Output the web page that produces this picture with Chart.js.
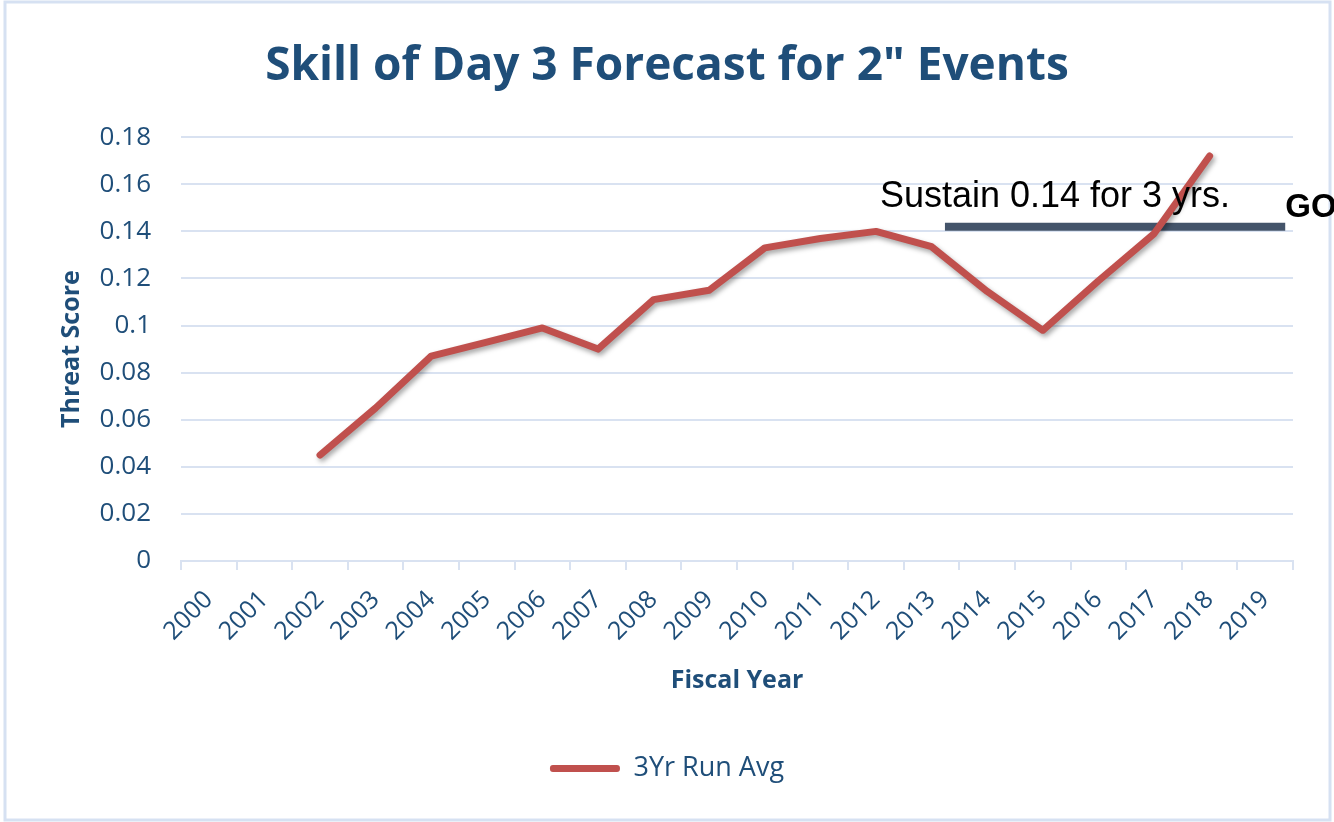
<!DOCTYPE html>
<html>
<head>
<meta charset="utf-8">
<script src="https://cdn.jsdelivr.net/npm/chart.js@4"></script>
<style>
  html, body { margin: 0; padding: 0; background: #fff; }
</style>
</head>
<body>
<canvas id="skill-chart" width="1334" height="822"></canvas>
<script>
// data
const years = ['2000', '2001', '2002', '2003', '2004', '2005', '2006', '2007', '2008', '2009',
               '2010', '2011', '2012', '2013', '2014', '2015', '2016', '2017', '2018', '2019'];
const runAvg = [null, null, 0.045, 0.065, 0.087, 0.093, 0.099, 0.090, 0.111, 0.115,
                0.133, 0.137, 0.140, 0.1335, 0.1145, 0.098, 0.119, 0.139, 0.172, null];
const goalValue = 0.142;
const goalSpan = [13.24, 19.36];   // in category units

const navy = '#1F4E79';
const gridColor = '#D9E2F1';
const lineRed = '#C0504D';

// light frame around the whole chart
const framePlugin = {
    id: 'frame',
    beforeDraw(chart) {
        const ctx = chart.ctx;
        ctx.save();
        ctx.fillStyle = '#fff';
        ctx.fillRect(0, 0, chart.width, chart.height);
        ctx.strokeStyle = '#D6E1F2';
        ctx.lineWidth = 3;
        ctx.strokeRect(5, 2, 1325, 818);
        ctx.restore();
    }
};

// soft shadow under the red line
const shadowPlugin = {
    id: 'lineShadow',
    beforeDatasetDraw(chart, args) {
        if (args.index !== 0) return;
        const ctx = chart.ctx;
        ctx.save();
        ctx.shadowColor = 'rgba(0,0,0,0.35)';
        ctx.shadowBlur = 5;
        ctx.shadowOffsetX = 2;
        ctx.shadowOffsetY = 3;
    },
    afterDatasetDraw(chart, args) {
        if (args.index !== 0) return;
        chart.ctx.restore();
    }
};

// goal text
const goalTextPlugin = {
    id: 'goalText',
    afterDatasetsDraw(chart) {
        const ctx = chart.ctx;
        const xs = chart.scales.xGoal;
        const ys = chart.scales.y;
        ctx.save();
        ctx.fillStyle = '#000';
        ctx.textBaseline = 'middle';
        ctx.textAlign = 'left';
        ctx.font = '36px "Liberation Sans", Arial, sans-serif';
        ctx.fillText('Sustain 0.14 for 3 yrs.', xs.getPixelForValue(12.07), ys.getPixelForValue(0.1545));
        ctx.font = 'bold 33px "Liberation Sans", Arial, sans-serif';
        ctx.fillText('GOAL', xs.getPixelForValue(goalSpan[1]), ys.getPixelForValue(0.150));
        ctx.restore();
    }
};

Chart.defaults.font.family = '"Open Sans", Lato, sans-serif';
Chart.defaults.color = navy;

new Chart(document.getElementById('skill-chart').getContext('2d'), {
    type: 'line',
    data: {
        labels: years,
        datasets: [{
            label: '3Yr Run Avg',
            data: runAvg,
            borderColor: lineRed,
            backgroundColor: lineRed,
            borderWidth: 7,
            pointRadius: 0,
            borderCapStyle: 'round',
            borderJoinStyle: 'round',
            tension: 0
        }, {
            label: 'goal',
            data: [{ x: goalSpan[0], y: goalValue }, { x: goalSpan[1], y: goalValue }],
            xAxisID: 'xGoal',
            borderColor: '#44546A',
            borderWidth: 8,
            pointRadius: 0
        }]
    },
    options: {
        responsive: false,
        animation: false,
        layout: { padding: { left: 41, right: 41, top: 16, bottom: 30 } },
        plugins: {
            title: {
                display: true,
                text: 'Skill of Day 3 Forecast for 2" Events',
                color: navy,
                font: { size: 46, weight: 'bold' },
                padding: { top: 23, bottom: 43 }
            },
            legend: {
                position: 'bottom',
                labels: {
                    color: navy,
                    font: { size: 27 },
                    boxWidth: 70,
                    boxHeight: 7,
                    padding: 7,
                    generateLabels: chart => [{
                        text: '3Yr Run Avg',
                        fillStyle: lineRed,
                        strokeStyle: lineRed,
                        lineWidth: 0,
                        borderRadius: 3,
                        fontColor: navy,
                        datasetIndex: 0
                    }]
                }
            },
            tooltip: { enabled: false }
        },
        scales: {
            x: {
                type: 'category',
                offset: true,
                grid: {
                    offset: true,
                    drawOnChartArea: false,
                    drawTicks: true,
                    tickLength: 9,
                    color: gridColor,
                    lineWidth: 2
                },
                border: { color: gridColor, width: 2 },
                ticks: {
                    color: navy,
                    font: { size: 25 },
                    minRotation: 45,
                    maxRotation: 45,
                    autoSkip: false,
                    padding: 15
                },
                title: {
                    display: true,
                    text: 'Fiscal Year',
                    color: navy,
                    font: { size: 25, weight: 'bold' },
                    padding: { top: 0, bottom: 52 }
                },
                afterFit: scale => { scale.height = 187; }
            },
            xGoal: {
                type: 'linear',
                display: false,
                min: -0.5,
                max: 19.5
            },
            y: {
                min: 0,
                max: 0.18,
                ticks: {
                    stepSize: 0.02,
                    color: navy,
                    font: { size: 26 },
                    padding: 30,
                    callback: v => String(+v.toFixed(2))
                },
                grid: { color: gridColor, lineWidth: 2, drawTicks: false },
                border: { display: false },
                title: {
                    display: true,
                    text: 'Threat Score',
                    color: navy,
                    font: { size: 25, weight: 'bold' },
                    padding: { top: 16, bottom: 0 }
                },
                afterFit: scale => { scale.width = 140; }
            }
        }
    },
    plugins: [framePlugin, shadowPlugin, goalTextPlugin]
});
</script>
</body>
</html>
